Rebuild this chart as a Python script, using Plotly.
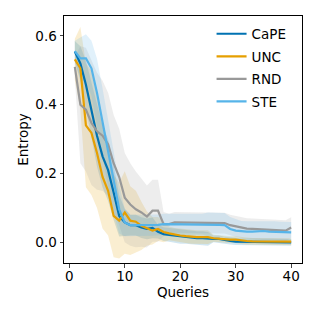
import plotly.graph_objects as go

queries = list(range(1, 41))

cape_mean = [0.555, 0.52, 0.458, 0.386, 0.31, 0.25, 0.21, 0.145, 0.077, 0.058,
             0.05, 0.05, 0.043, 0.039, 0.042, 0.031, 0.024, 0.022, 0.02, 0.016,
             0.016, 0.014, 0.012, 0.012, 0.01, 0.01, 0.01, 0.006, 0.004, 0.002,
             0.002, 0.002, 0.001, 0.001, 0.001, 0.001, 0.001, 0.0, 0.0, 0.0]
cape_std = [0.03, 0.05, 0.07, 0.08, 0.09, 0.09, 0.09, 0.08, 0.06, 0.04,
            0.03, 0.03, 0.03, 0.03, 0.03, 0.02, 0.02, 0.02, 0.02, 0.02,
            0.02, 0.02, 0.02, 0.02, 0.02, 0.01, 0.01, 0.01, 0.01, 0.01,
            0.01, 0.01, 0.01, 0.01, 0.01, 0.01, 0.01, 0.01, 0.01, 0.01]

unc_mean = [0.532, 0.506, 0.34, 0.318, 0.26, 0.19, 0.15, 0.077, 0.063, 0.087,
            0.063, 0.06, 0.048, 0.04, 0.034, 0.039, 0.03, 0.026, 0.022, 0.02,
            0.018, 0.016, 0.015, 0.015, 0.015, 0.012, 0.01, 0.009, 0.008, 0.008,
            0.005, 0.004, 0.003, 0.003, 0.003, 0.003, 0.002, 0.002, 0.002, 0.002]
unc_std = [0.06, 0.12, 0.18, 0.18, 0.16, 0.15, 0.13, 0.12, 0.11, 0.12,
           0.1, 0.09, 0.07, 0.05, 0.04, 0.035, 0.03, 0.02, 0.02, 0.02,
           0.02, 0.02, 0.02, 0.02, 0.02, 0.01, 0.01, 0.01, 0.01, 0.01,
           0.01, 0.01, 0.01, 0.01, 0.01, 0.01, 0.01, 0.01, 0.01, 0.01]

rnd_mean = [0.51, 0.40, 0.386, 0.347, 0.323, 0.31, 0.285, 0.23, 0.19, 0.13,
            0.11, 0.096, 0.087, 0.075, 0.092, 0.092, 0.053, 0.053, 0.058, 0.058,
            0.057, 0.056, 0.056, 0.056, 0.057, 0.056, 0.056, 0.056, 0.05, 0.046,
            0.043, 0.04, 0.039, 0.038, 0.037, 0.036, 0.035, 0.034, 0.034, 0.043]
rnd_std = [0.03, 0.17, 0.18, 0.18, 0.17, 0.16, 0.15, 0.14, 0.14, 0.13,
           0.12, 0.11, 0.1, 0.09, 0.09, 0.09, 0.035, 0.03, 0.03, 0.03,
           0.03, 0.03, 0.03, 0.03, 0.03, 0.03, 0.03, 0.03, 0.03, 0.03,
           0.03, 0.03, 0.03, 0.03, 0.03, 0.03, 0.03, 0.03, 0.03, 0.03]

ste_mean = [0.556, 0.535, 0.535, 0.506, 0.434, 0.347, 0.26, 0.174, 0.096, 0.058,
            0.05, 0.05, 0.05, 0.049, 0.049, 0.051, 0.053, 0.053, 0.053, 0.053,
            0.053, 0.053, 0.053, 0.053, 0.052, 0.052, 0.051, 0.05, 0.039, 0.034,
            0.032, 0.031, 0.031, 0.032, 0.033, 0.031, 0.031, 0.03, 0.03, 0.029]
ste_std = [0.03, 0.06, 0.07, 0.08, 0.1, 0.1, 0.1, 0.09, 0.07, 0.04,
           0.03, 0.03, 0.03, 0.03, 0.03, 0.03, 0.03, 0.03, 0.03, 0.03,
           0.03, 0.03, 0.03, 0.03, 0.035, 0.035, 0.035, 0.035, 0.035, 0.035,
           0.03, 0.03, 0.03, 0.03, 0.03, 0.03, 0.03, 0.03, 0.03, 0.03]

series = [
    ("CaPE", cape_mean, cape_std, "#0072B2", "rgba(0,114,178,0.18)"),
    ("UNC", unc_mean, unc_std, "#E69F00", "rgba(230,159,0,0.18)"),
    ("RND", rnd_mean, rnd_std, "#999999", "rgba(153,153,153,0.18)"),
    ("STE", ste_mean, ste_std, "#56B4E9", "rgba(86,180,233,0.18)"),
]

x_ticks = [0, 10, 20, 30, 40]
y_ticks = [0.0, 0.2, 0.4, 0.6]

fig = go.Figure()
for name, m, s, col, fcol in series:
    upper = [a + b for a, b in zip(m, s)]
    lower = [a - b for a, b in zip(m, s)]
    fig.add_trace(go.Scatter(
        x=queries + queries[::-1], y=upper + lower[::-1],
        fill="toself", fillcolor=fcol, line=dict(width=0),
        mode="lines", showlegend=False, hoverinfo="skip"))
for name, m, s, col, fcol in series:
    fig.add_trace(go.Scatter(x=queries, y=m, mode="lines", name=name,
                             legendgroup=name,
                             line=dict(color=col, width=2.2)))

font = dict(family="DejaVu Sans", size=13.5, color="black")
fig.update_layout(
    width=319, height=319,
    margin=dict(l=64, r=17, t=16, b=56),
    paper_bgcolor="white", plot_bgcolor="white",
    font=font,
    showlegend=True,
    legend=dict(x=0.62, y=0.99, xanchor="left", yanchor="top",
                bgcolor="rgba(0,0,0,0)", font=font, tracegroupgap=2,
                itemwidth=30),
    xaxis=dict(range=[-0.95, 41.95], tickvals=x_ticks, ticks="outside",
               ticklen=3.5, showline=True, linecolor="black", linewidth=1,
               mirror=True, showgrid=False, zeroline=False, automargin=False,
               ticklabelstandoff=-3,
               title=dict(text="Queries", font=font, standoff=1)),
    yaxis=dict(range=[-0.06, 0.658], tickvals=y_ticks, tickformat=".1f",
               ticks="outside", ticklen=3.5, showline=True, linecolor="black",
               linewidth=1, mirror=True, showgrid=False, zeroline=False,
               automargin=False,
               title=dict(text="Entropy", font=font, standoff=3)),
)
fig.write_html("out.html", config={"displayModeBar": False})

with open("out.html", "r", encoding="utf-8") as f:
    html = f.read()
html = html.replace("<head>", "<head><style>html,body{margin:0;padding:0;overflow:hidden;}</style>", 1)
with open("out.html", "w", encoding="utf-8") as f:
    f.write(html)
